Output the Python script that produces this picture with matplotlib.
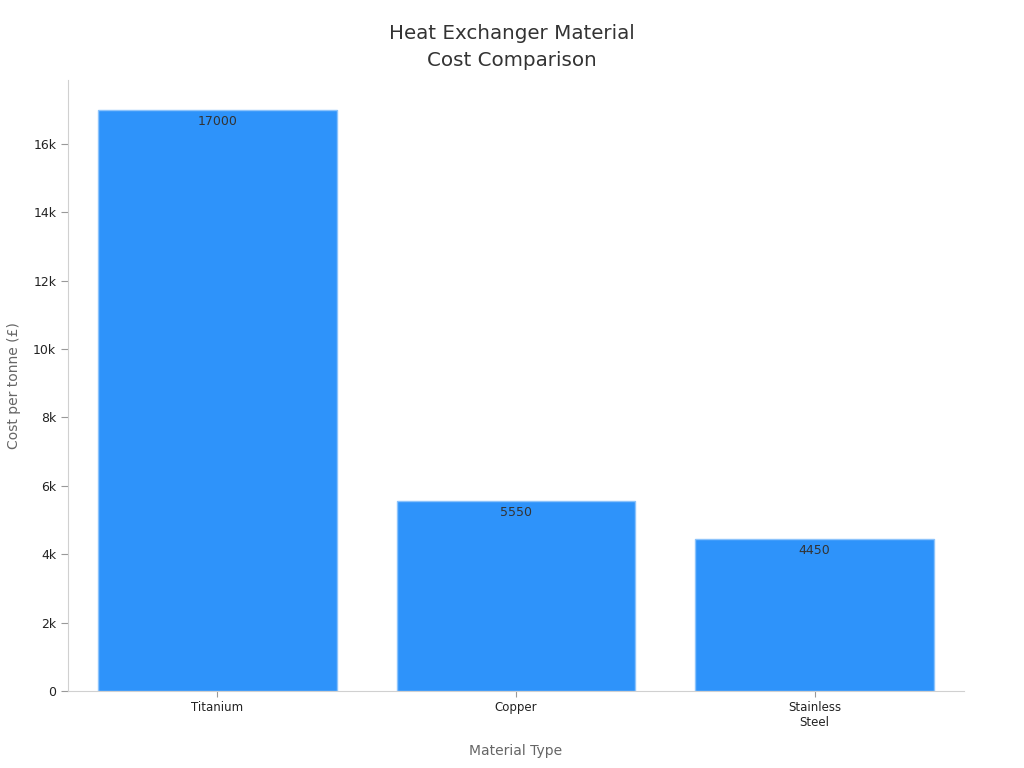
import matplotlib
matplotlib.use("Agg")
import matplotlib.pyplot as plt
from matplotlib.ticker import FuncFormatter

materials = ["Titanium", "Copper", "Stainless\nSteel"]
cost_per_tonne = [17000, 5550, 4450]

bar_color = "#2E93FA"
edge_color = "#8CC3FB"

fig = plt.figure(figsize=(10.24, 7.68), dpi=100)
ax = fig.add_axes([0.0664, 0.1003, 0.875, 0.7955])

x = range(len(materials))
bars = ax.bar(x, cost_per_tonne, width=0.8, color=bar_color,
              edgecolor=edge_color, linewidth=1)

for rect, val in zip(bars, cost_per_tonne):
    ax.annotate(str(val), xy=(rect.get_x() + rect.get_width() / 2, rect.get_height()),
                xytext=(0, -3.5), textcoords="offset points",
                ha="center", va="top", fontsize=9, color="#333333")

ax.set_xlim(-0.5, 2.5)
ax.set_ylim(0, 17870)
ax.set_xticks(list(x))
ax.set_xticklabels(materials, fontsize=8.5, color="#222222")
ax.set_yticks(range(0, 17000, 2000))
ax.yaxis.set_major_formatter(FuncFormatter(lambda v, p: "0" if v == 0 else f"{int(v/1000)}k"))
ax.tick_params(axis="y", labelsize=9, colors="#222222", length=5, color="#999999")
ax.tick_params(axis="x", length=4, color="#999999")

for side in ["top", "right"]:
    ax.spines[side].set_visible(False)
for side in ["left", "bottom"]:
    ax.spines[side].set_color("#d0d0d0")

ax.set_xlabel("Material Type", fontsize=10, color="#666666", labelpad=10.5)
ax.set_ylabel("Cost per tonne (£)", fontsize=10, color="#666666", labelpad=9)
fig.text(0.5, 0.939, "Heat Exchanger Material\nCost Comparison", ha="center", va="center",
         fontsize=14.3, color="#333333", linespacing=1.5)

fig.savefig("out.png", dpi=100)
